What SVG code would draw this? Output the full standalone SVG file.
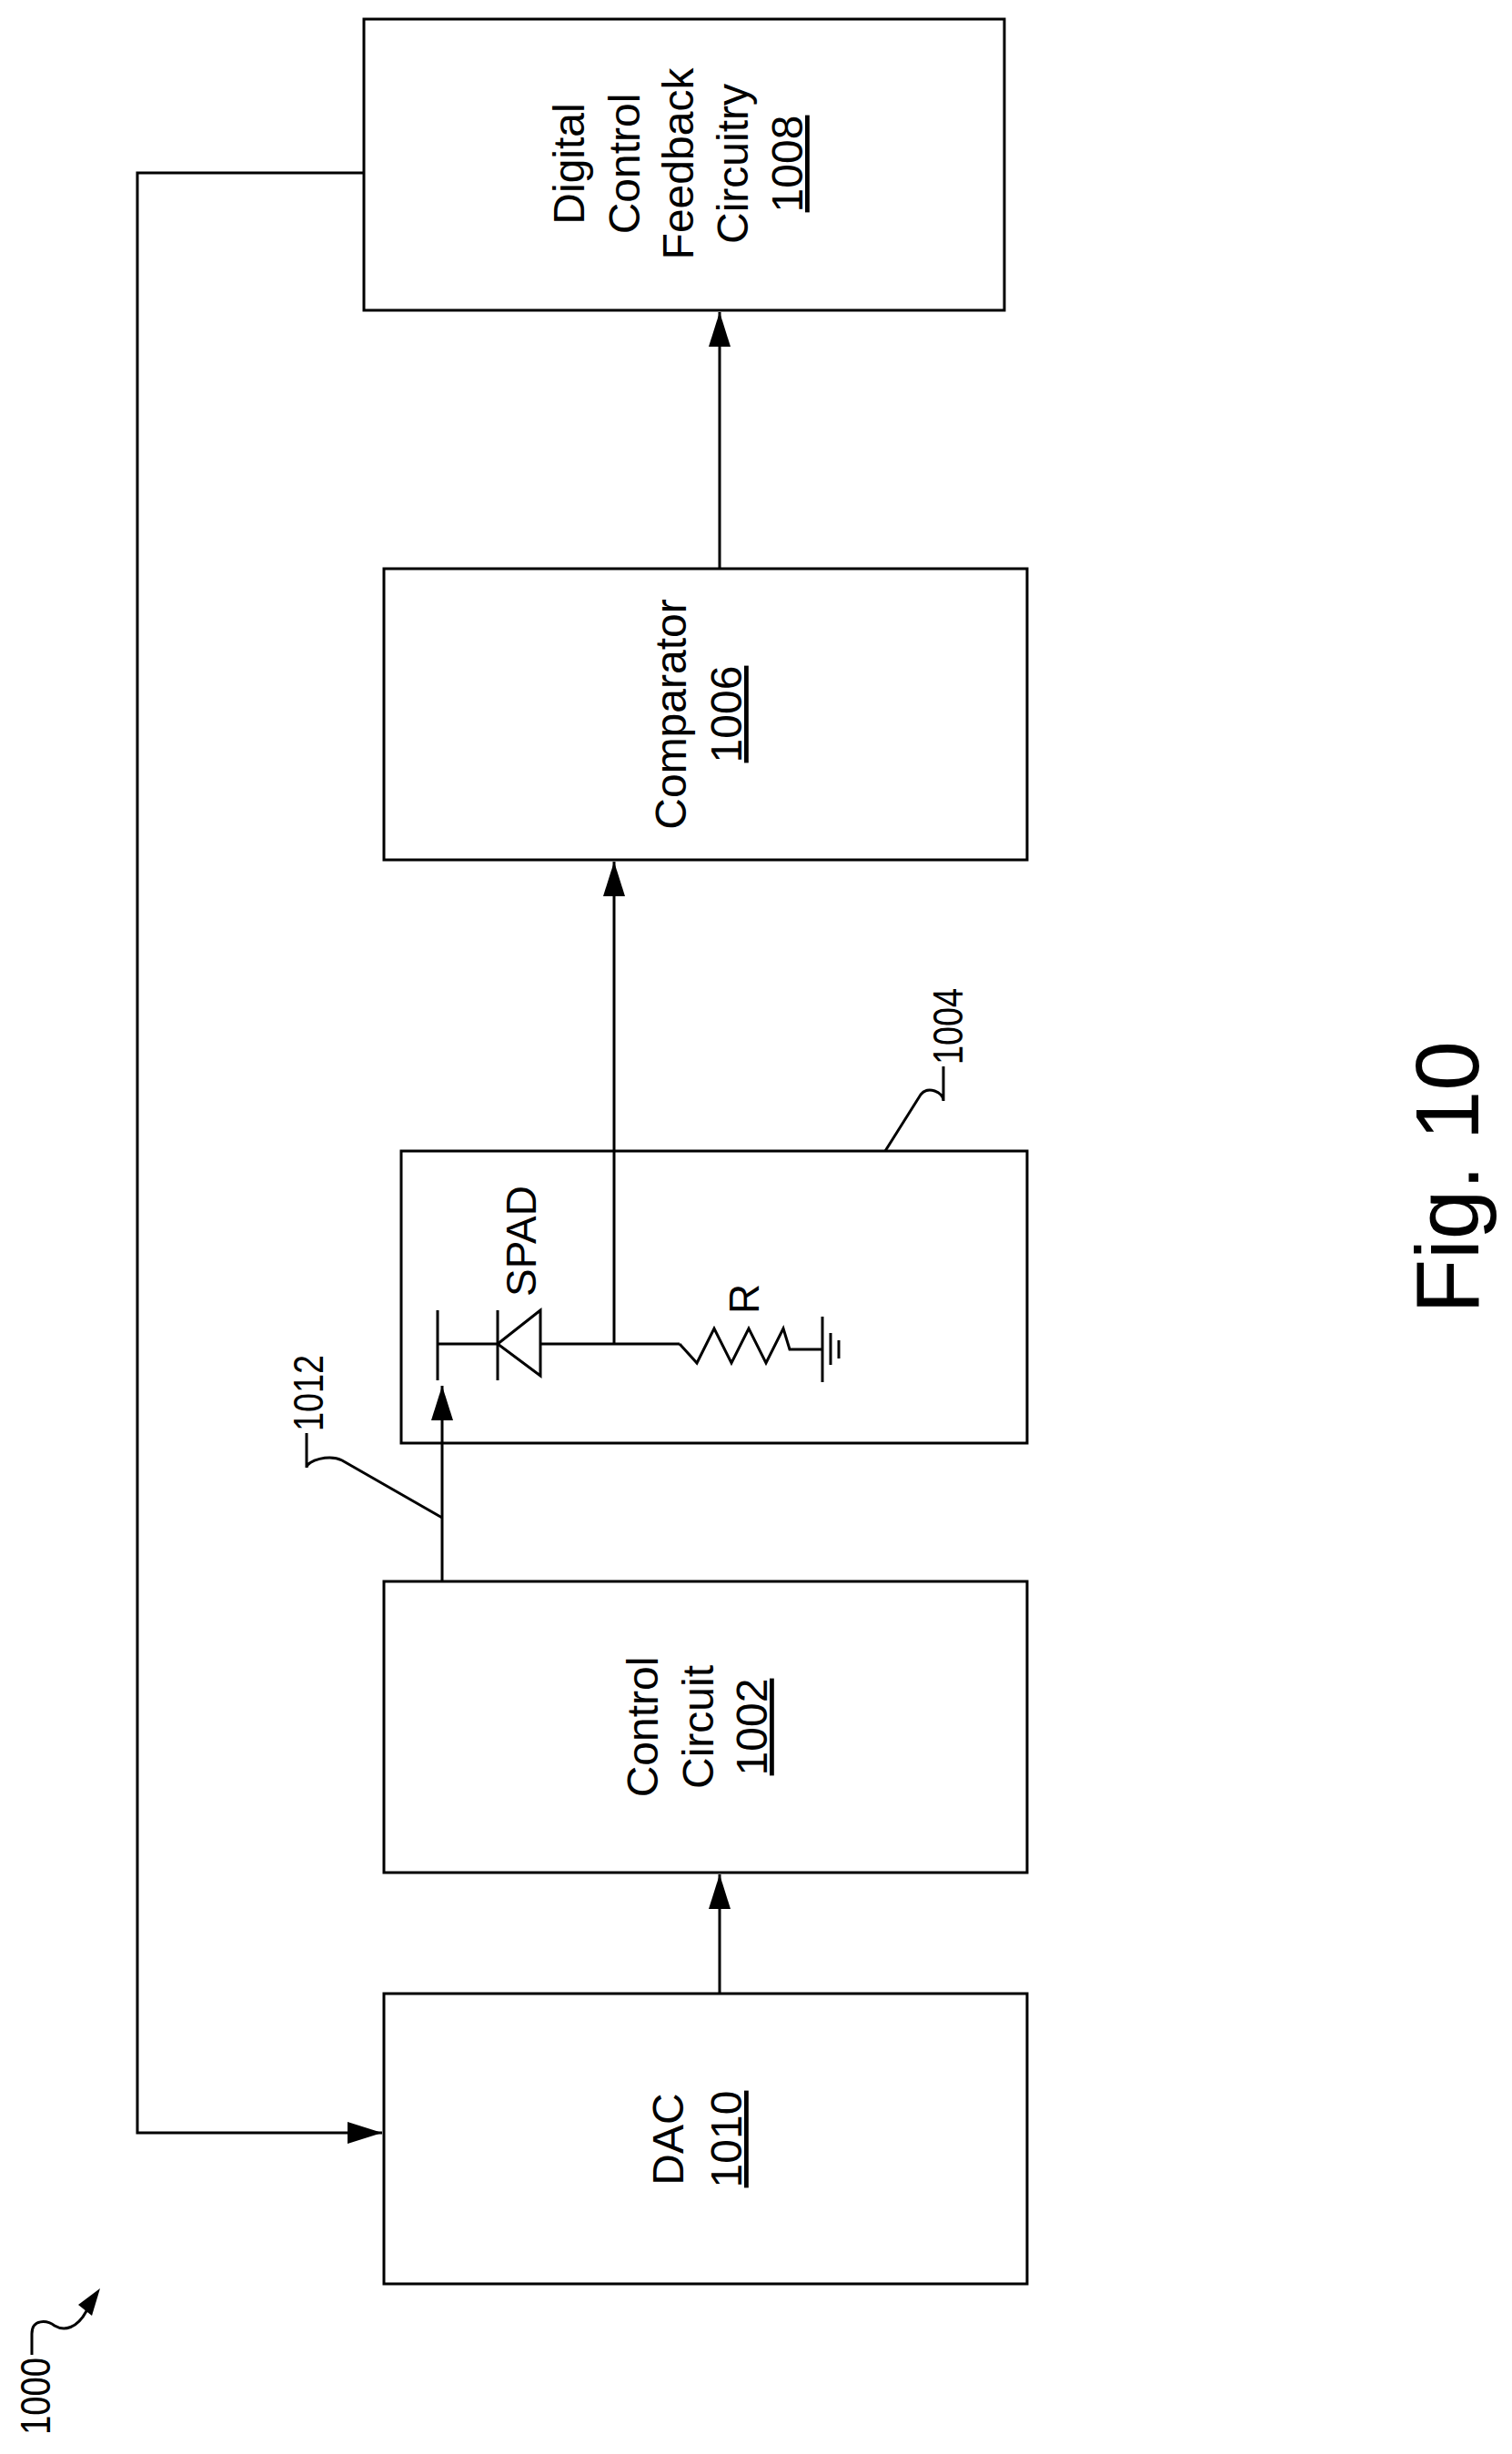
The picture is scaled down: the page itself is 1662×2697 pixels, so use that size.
<svg xmlns="http://www.w3.org/2000/svg" width="1662" height="2697" viewBox="0 0 1662 2697">
<style>
.box{fill:#fff;stroke:#000;stroke-width:3}
.ln{fill:none;stroke:#000;stroke-width:3}
.t{font-family:"Liberation Sans Narrow","Arial Narrow","Liberation Sans",sans-serif;font-size:48px;fill:#000;text-anchor:middle}
.l{font-family:"Liberation Sans",Arial,sans-serif;font-size:46px;fill:#000}
</style>
<defs>
<marker id="ah" markerUnits="userSpaceOnUse" markerWidth="40" markerHeight="26" refX="38" refY="12" orient="auto">
<path d="M0,0 L38,12 L0,24 z" fill="#000"/>
</marker>
</defs>
<g id="n1008">
<rect class="box" x="400" y="21" width="704" height="320"/>
<g transform="translate(0,180) rotate(-90)">
<text class="t" x="0" y="642">Digital</text>
<text class="t" x="0" y="703">Control</text>
<text class="t" x="0" y="762">Feedback</text>
<text class="t" x="0" y="822">Circuitry</text>
<text class="t" x="0" y="882" text-decoration="underline">1008</text>
</g>
</g>
<g id="n1006">
<rect class="box" x="422" y="625" width="707" height="320"/>
<g transform="translate(0,785) rotate(-90)">
<text class="t" x="0" y="754">Comparator</text>
<text class="t" x="0" y="815" text-decoration="underline">1006</text>
</g>
</g>
<g id="n1004">
<rect class="box" x="441" y="1265" width="688" height="321"/>
<line class="ln" x1="481" y1="1440" x2="481" y2="1517"/>
<line class="ln" x1="481" y1="1477" x2="547" y2="1477"/>
<line class="ln" x1="547" y1="1440" x2="547" y2="1517"/>
<path class="ln" d="M594,1440 L547,1477 L594,1512 Z"/>
<line class="ln" x1="594" y1="1477" x2="747" y2="1477"/>
<polyline class="ln" points="747,1477 766,1498 785,1460 804,1498 823,1460 842,1498 861,1460 868,1483 904,1483"/>
<line class="ln" x1="904" y1="1447" x2="904" y2="1519"/>
<line class="ln" x1="913" y1="1465" x2="913" y2="1500"/>
<line class="ln" x1="922" y1="1473" x2="922" y2="1493"/>
<text class="l" font-size="50" transform="translate(589,1425) rotate(-90)">SPAD</text>
<text class="l" font-size="50" transform="translate(834,1444) rotate(-90)">R</text>
</g>
<g id="n1002">
<rect class="box" x="422" y="1738" width="707" height="320"/>
<g transform="translate(0,1898) rotate(-90)">
<text class="t" x="0" y="723">Control</text>
<text class="t" x="0" y="784">Circuit</text>
<text class="t" x="0" y="843" text-decoration="underline">1002</text>
</g>
</g>
<g id="n1010">
<rect class="box" x="422" y="2191" width="707" height="319"/>
<g transform="translate(0,2351) rotate(-90)">
<text class="t" x="0" y="751">DAC</text>
<text class="t" x="0" y="815" text-decoration="underline">1010</text>
</g>
</g>
<g id="connectors">
<line class="ln" x1="791" y1="625" x2="791" y2="343" marker-end="url(#ah)"/>
<line class="ln" x1="675" y1="1477" x2="675" y2="947" marker-end="url(#ah)"/>
<line class="ln" x1="791" y1="2191" x2="791" y2="2060" marker-end="url(#ah)"/>
<line class="ln" x1="486" y1="1738" x2="486" y2="1523" marker-end="url(#ah)"/>
<polyline class="ln" points="400,190 151,190 151,2344 420,2344" marker-end="url(#ah)"/>
</g>
<g id="labels">
<path class="ln" d="M973,1265 L1012,1203 C1020,1193 1037,1200 1037,1210 L1037,1172"/>
<text class="l" textLength="84" lengthAdjust="spacingAndGlyphs" transform="translate(1058,1170) rotate(-90)">1004</text>
<path class="ln" d="M486,1668 L376,1605 C362,1598 337,1605 337,1613 L337,1575"/>
<text class="l" textLength="84" lengthAdjust="spacingAndGlyphs" transform="translate(355,1573) rotate(-90)">1012</text>
<path class="ln" d="M35,2588 L35,2565 C35,2548 52,2550 60,2556 C70,2562 85,2560 96,2538" />
<path d="M110,2515 L101,2545 L86,2533 Z" fill="#000"/>
<text class="l" textLength="85" lengthAdjust="spacingAndGlyphs" transform="translate(55,2676) rotate(-90)">1000</text>
<text x="0" y="0" font-family="Liberation Sans, Arial, sans-serif" font-size="98" text-anchor="middle" transform="translate(1625,1294) rotate(-90)">Fig. 10</text>
</g>
</svg>
